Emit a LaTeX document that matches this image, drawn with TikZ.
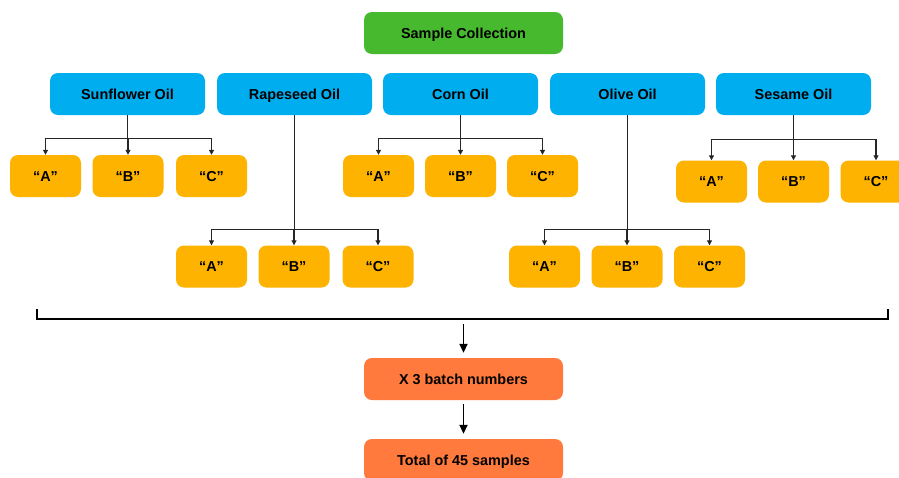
\documentclass[tikz,border=0pt]{standalone}
\usepackage{fontspec}
\setmainfont{Liberation Sans}
\usetikzlibrary{arrows.meta,calc}
\definecolor{cgreen}{HTML}{46B92E}
\definecolor{cblue}{HTML}{00AEEF}
\definecolor{cyellow}{HTML}{FDB300}
\definecolor{corange}{HTML}{FF7A3C}
\begin{document}
\begin{tikzpicture}[x=1pt,y=-1pt,
  box/.style={rounded corners=8pt,minimum height=42pt,inner sep=0pt,text height=10.3pt,text depth=0pt,font=\fontsize{14.4}{16}\selectfont\bfseries,text=black},
  topbox/.style={box,fill=cgreen,minimum width=199pt},
  oil/.style={box,fill=cblue,minimum width=155pt},
  grade/.style={box,fill=cyellow,minimum width=71pt},
  result/.style={box,fill=corange,minimum width=199pt},
  conn/.style={line width=1.1pt,black!85,-{Triangle[width=5pt,length=5pt]}},
  bigarr/.style={line width=1.8pt,black,-{Triangle[width=8pt,length=9pt]}},
  brace/.style={line width=2.5pt,black}]
\path[use as bounding box,clip] (0,0) rectangle (899,477);
\fill[white] (0,0) rectangle (899,477);
% top
\node[topbox] (top) at (463.5,33) {Sample Collection};
% oils
\node[oil] (sun) at (127.5,94) {Sunflower Oil};
\node[oil] (rap) at (294.5,94) {Rapeseed Oil};
\node[oil] (cor) at (460.5,94) {Corn Oil};
\node[oil] (oli) at (627.5,94) {Olive Oil};
\node[oil] (ses) at (793.5,94) {Sesame Oil};
% grades row 1
\node[grade] (sunA) at (45.5,176) {“A”};
\node[grade] (sunB) at (128,176) {“B”};
\node[grade] (sunC) at (211.5,176) {“C”};
\node[grade] (corA) at (378.5,176) {“A”};
\node[grade] (corB) at (460.5,176) {“B”};
\node[grade] (corC) at (542.5,176) {“C”};
\node[grade] (sesA) at (711.5,181.5) {“A”};
\node[grade] (sesB) at (793.5,181.5) {“B”};
\node[grade] (sesC) at (876,181.5) {“C”};
% grades row 2
\node[grade] (rapA) at (211.5,266.5) {“A”};
\node[grade] (rapB) at (294,266.5) {“B”};
\node[grade] (rapC) at (378,266.5) {“C”};
\node[grade] (oliA) at (544.5,266.5) {“A”};
\node[grade] (oliB) at (627,266.5) {“B”};
\node[grade] (oliC) at (709.5,266.5) {“C”};
% connectors
\foreach \p/\d in {sun/16,cor/16,ses/21,rap/16,oli/16}{
  \foreach \c in {A,B,C}{
    \draw[conn] (\p.south) |- ($(\p\c.north)+(0,-\d)$) -- (\p\c.north);
  }
}
% bracket
\coordinate (bl) at (37,309);
\coordinate (br) at (888,309);
\draw[brace] (bl) -- (37,319) -- (888,319) -- (br);
\coordinate (bm) at (463.5,324);
% results
\node[result] (batch) at (463.5,379) {X 3 batch numbers};
\node[result] (total) at (463.5,460) {Total of 45 samples};
\draw[bigarr] (bm) -- ([yshift=5pt]batch.north);
\draw[bigarr] ([yshift=-4pt]batch.south) -- ([yshift=5pt]total.north);
\end{tikzpicture}
\end{document}
